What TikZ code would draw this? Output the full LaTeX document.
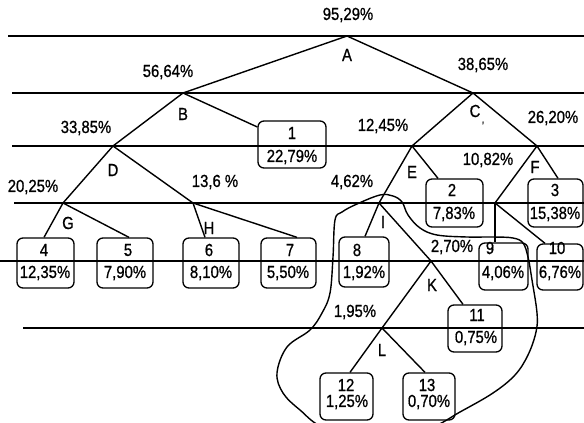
\documentclass[tikz,border=0pt]{standalone}
\usepackage{fontspec}
\setmainfont{Liberation Sans}[FakeStretch=0.85,FakeBold=0.8]
\begin{document}
\begin{tikzpicture}[x=1pt,y=-1pt,
  hline/.style={line width=1.1pt},
  edge/.style={line width=1.4pt},
  leafbox/.style={draw, line width=1.3pt, rounded corners=6pt, inner sep=0pt},
  lbl/.style={font=\fontsize{17.5}{17.5}\selectfont, inner sep=0pt}]
\useasboundingbox (0,0) rectangle (584,423);
% horizontal level lines
\coordinate (l1a) at (8,36);   \coordinate (l1b) at (584,36);
\coordinate (l2a) at (12,93);  \coordinate (l2b) at (584,93);
\coordinate (l3a) at (12,146); \coordinate (l3b) at (584,146);
\coordinate (l4a) at (14,203); \coordinate (l4b) at (584,203);
\coordinate (l5a) at (0,261);  \coordinate (l5b) at (584,261);
\coordinate (l6a) at (23,328); \coordinate (l6b) at (584,328);
\foreach \i in {1,...,6} {\draw[hline] (l\i a) -- (l\i b);}
% vertices
\coordinate (A) at (347,36);
\coordinate (B) at (183,93);
\coordinate (C) at (473,93);
\coordinate (D) at (113,146);
\coordinate (E) at (412,146);
\coordinate (F) at (537,146);
\coordinate (G) at (63,203);
\coordinate (H) at (193,203);
\coordinate (I) at (379,203);
\coordinate (J) at (495,203);
\coordinate (K) at (431,261);
\coordinate (L) at (382,328);
% boxes
\node[leafbox, minimum width=68pt, minimum height=47pt] (b1) at (292,144.5) {};
\node[leafbox, minimum width=57pt, minimum height=48pt] (b2) at (454.5,203) {};
\node[leafbox, minimum width=55pt, minimum height=48pt] (b3) at (555.5,203) {};
\node[leafbox, minimum width=57pt, minimum height=50pt] (b4) at (45.5,263) {};
\node[leafbox, minimum width=56pt, minimum height=50pt] (b5) at (125,263) {};
\node[leafbox, minimum width=56pt, minimum height=50pt] (b6) at (211,263) {};
\node[leafbox, minimum width=55pt, minimum height=50pt] (b7) at (288.5,263) {};
\node[leafbox, minimum width=50pt, minimum height=50pt] (b8) at (364,262) {};
\node[leafbox, minimum width=49pt, minimum height=47pt] (b9) at (503.5,266.5) {};
\node[leafbox, minimum width=46pt, minimum height=46pt] (b10) at (560,267) {};
\node[leafbox, minimum width=54pt, minimum height=47pt] (b11) at (475,328.5) {};
\node[leafbox, minimum width=53pt, minimum height=47pt] (b12) at (346.5,396.5) {};
\node[leafbox, minimum width=52pt, minimum height=47pt] (b13) at (429,396.5) {};
% box texts
\node[lbl] (t1n) at (292,133) {1};     \node[lbl] (t1p) at (292,157) {22,79\%};
\node[lbl] (t2n) at (452,190) {2};     \node[lbl] (t2p) at (454,214) {7,83\%};
\node[lbl] (t3n) at (555,190) {3};     \node[lbl] (t3p) at (555,214) {15,38\%};
\node[lbl] (t4n) at (44,250) {4};      \node[lbl] (t4p) at (45,273) {12,35\%};
\node[lbl] (t5n) at (128,250) {5};     \node[lbl] (t5p) at (125,273) {7,90\%};
\node[lbl] (t6n) at (209,250) {6};     \node[lbl] (t6p) at (211,273) {8,10\%};
\node[lbl] (t7n) at (290,250) {7};     \node[lbl] (t7p) at (288,273) {5,50\%};
\node[lbl] (t8n) at (357,250) {8};     \node[lbl] (t8p) at (364,273) {1,92\%};
\node[lbl] (t9n) at (490,248) {9};     \node[lbl] (t9p) at (503,273) {4,06\%};
\node[lbl] (t10n) at (557,248) {10};   \node[lbl] (t10p) at (560,273) {6,76\%};
\node[lbl] (t11n) at (477,315) {11};   \node[lbl] (t11p) at (476,338) {0,75\%};
\node[lbl] (t12n) at (346,385) {12};   \node[lbl] (t12p) at (347,402) {1,25\%};
\node[lbl] (t13n) at (427,385) {13};   \node[lbl] (t13p) at (429,402) {0,70\%};
% tree edges
\draw[edge] (A) -- (B);
\draw[edge] (A) -- (C);
\draw[edge] (B) -- (D);
\draw[edge] (B) -- ([yshift=17.5pt]b1.west);
\draw[edge] (C) -- (E);
\draw[edge] (C) -- (F);
\draw[edge] (D) -- (G);
\draw[edge] (D) -- (H);
\draw[edge] (G) -- ([xshift=-1.5pt]b4.north);
\draw[edge] (G) -- ([xshift=4pt]b5.north);
\draw[edge] (H) -- ([xshift=-6pt]b6.north);
\draw[edge] (H) -- ([xshift=8.5pt]b7.north);
\draw[edge] (E) -- (I);
\draw[edge] (E) -- ([xshift=-16.5pt]b2.north);
\draw[edge] (I) -- ([xshift=1pt]b8.north);
\draw[edge] (I) -- (K);
\draw[edge] (F) -- ([xshift=2.5pt]b3.north);
\draw[edge] (F) -- (J);
\draw[edge] (J) -- ([xshift=-8.5pt]b9.north);
\draw[edge] (J) -- ([xshift=-15pt]b10.north);
\draw[edge] (K) -- ([xshift=-12pt]b11.north);
\draw[edge] (K) -- (L);
\draw[edge] (L) -- ([xshift=3.5pt]b12.north);
\draw[edge] (L) -- ([xshift=-4pt]b13.north);
% vertex letters and percentages
\node[lbl] (pA) at (348,15) {95,29\%};
\node[lbl] (nA) at (347,55) {A};
\node[lbl] (pB) at (168,72) {56,64\%};
\node[lbl] (nB) at (183,114) {B};
\node[lbl] (pC) at (483,65) {38,65\%};
\node[lbl] (nC) at (475,111) {C};
\node[lbl, font=\fontsize{11}{11}\selectfont] (cm) at (483,123) {,};
\node[lbl] (pD) at (86,128) {33,85\%};
\node[lbl] (pF) at (553,118) {26,20\%};
\node[lbl] (pE) at (383,126) {12,45\%};
\node[lbl] (nD) at (113,170) {D};
\node[lbl] (nE) at (412,172) {E};
\node[lbl] (nF) at (535,167) {F};
\node[lbl] (pJ) at (488,160) {10,82\%};
\node[lbl] (pG) at (33,187) {20,25\%};
\node[lbl] (pH) at (215,182) {13,6 \%};
\node[lbl] (pI) at (352,182) {4,62\%};
\node[lbl] (nG) at (68,223) {G};
\node[lbl] (nH) at (209,228) {H};
\node[lbl] (nI) at (383,222) {I};
\node[lbl] (pK) at (452,247) {2,70\%};
\node[lbl] (nK) at (432,285) {K};
\node[lbl] (pL) at (355,312) {1,95\%};
\node[lbl] (nL) at (382,350) {L};
% enclosing curve
\begin{scope}
\clip (0,0) rectangle (584,423);
\draw[edge] plot[smooth cycle, tension=0.6] coordinates {
  (330,293) (333,257) (335,220) (342,212) (357,204) (380,195) (393,196)
  (402,202) (408,215) (420,228) (437,235) (467,237) (493,237) (513,238)
  (523,243) (528,257) (532,280) (537,313) (536,332) (528,355) (515,375)
  (493,393) (460,412) (430,428) (380,440) (325,428) (300,410) (283,393)
  (277,373) (287,347) (310,330) (322,313)};
\end{scope}
\end{tikzpicture}
\end{document}
